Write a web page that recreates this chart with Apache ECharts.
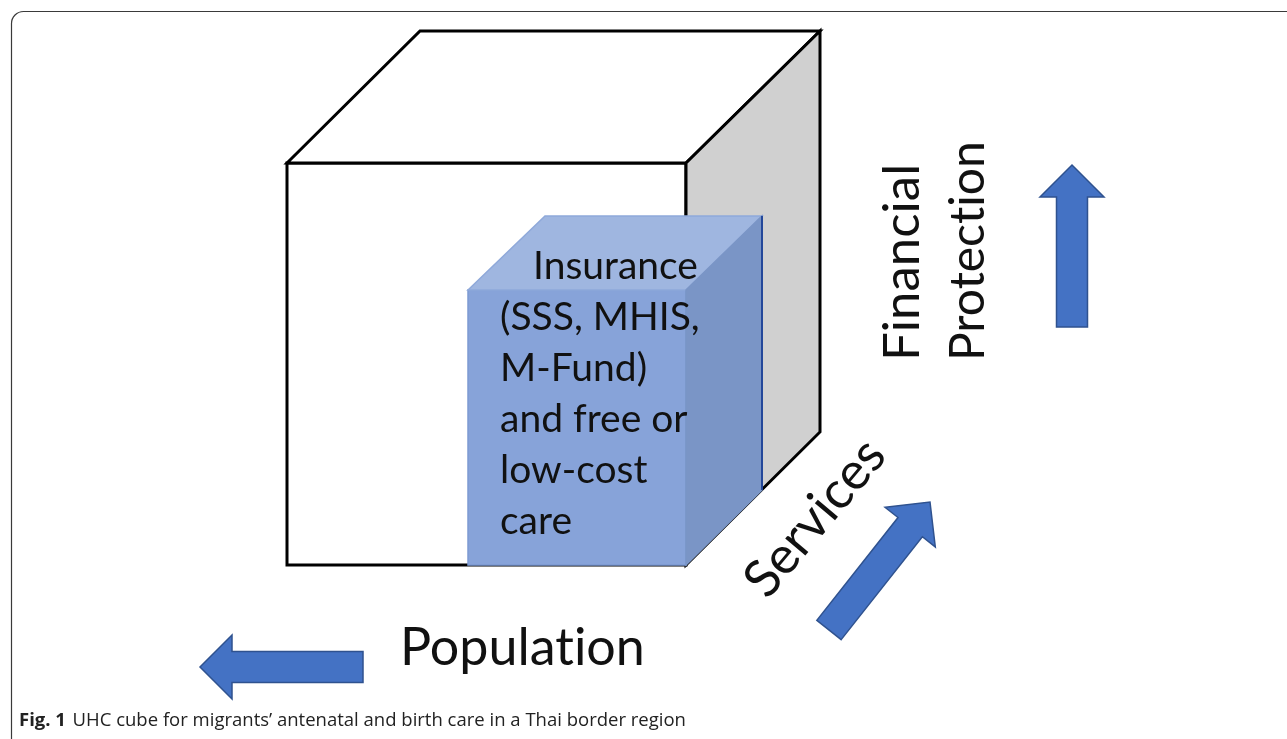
<!DOCTYPE html>
<html>
<head>
<meta charset="utf-8">
<script src="https://cdn.jsdelivr.net/npm/echarts@6/dist/echarts.min.js"></script>
<style>
html,body{margin:0;padding:0;background:#fff;}
#main{width:1287px;height:739px;}
</style>
</head>
<body>
<div id="main"></div>
<script>
// ---- diagram data (in page units of a hidden 0..1287 x 0..739 value grid) ----
const outerCubeFront = [[287,163],[686,163],[686,565],[287,565]];
const outerCubeTop   = [[287,163],[420,31],[820,31],[686,163]];
const outerCubeSide  = [[686,163],[820,31],[820,432],[686,565]];
const innerCubeFront = [[468,290],[686,290],[686,565],[468,565]];
const innerCubeTop   = [[468,290],[545,216],[762,216],[686,290]];
const innerCubeSide  = [[686,290],[762,216],[762,490],[686,565]];
const faceKinds = ['outerFront','outerTop','outerSide','innerFront','innerTop','innerSide'];

const arrowTails = [[363,667],[1072,327],[829,630]];
const arrowTips  = [[200,667],[1072,165],[930,502]];

const dimensionLabels = ['Population','Services','Financial','Protection'];
const dimensionAnchors = [[400,648],[815,518],[903,361],[969,361]];
const dimensionAngles = [0,50,90,90];

const boxLines = ['Insurance','(SSS, MHIS,','M-Fund)','and free or','low-cost','care'];
const boxLineAnchors = [[533,266],[500,317],[500,368],[500,419],[500,470],[500,521]];

const captionLabel = 'Fig. 1';
const captionText = 'UHC cube for migrants\u2019 antenatal and birth care in a Thai border region';
const captionAnchor = [19,721];

// ---- styles ----
const faceStyle = {
  outerFront: {fill:'#ffffff', stroke:'#000000', lineWidth:3},
  outerTop:   {fill:'#ffffff', stroke:'#000000', lineWidth:3},
  outerSide:  {fill:'#d0d0d0', stroke:'#000000', lineWidth:3},
  innerFront: {fill:'#87a3d9', stroke:'#7d9bd2', lineWidth:1.5},
  innerTop:   {fill:'#9fb6e0', stroke:'#8fa9da', lineWidth:1.5},
  innerSide:  {fill:'#7a95c6', stroke:'#7a95c6', lineWidth:1.5}
};
const dimensionFontSizes = [52, 52, 51, 48];
const faces = [outerCubeFront, outerCubeTop, outerCubeSide, innerCubeFront, innerCubeTop, innerCubeSide];
const FONT = 'Lato, "Open Sans", sans-serif';

// break the Lato "ti" ligature so glyphs look like the original (invisible joiner-breaker)
function noLig(s){ return s.replace(/ti/g, 't\u200Ci'); }

const chart = echarts.init(document.getElementById('main'), null, {renderer:'canvas'});

function arrowPoints(tail, tip, api) {
  const a = api.coord(tail), b = api.coord(tip);
  const dx = b[0]-a[0], dy = b[1]-a[1];
  const len = Math.hypot(dx, dy);
  const ux = dx/len, uy = dy/len, nx = -uy, ny = ux;
  const sw = 15.5, hw = 32, hl = 32;
  const bx = b[0]-ux*hl, by = b[1]-uy*hl;
  return [
    [a[0]+nx*sw, a[1]+ny*sw],
    [bx+nx*sw, by+ny*sw],
    [bx+nx*hw, by+ny*hw],
    [b[0], b[1]],
    [bx-nx*hw, by-ny*hw],
    [bx-nx*sw, by-ny*sw],
    [a[0]-nx*sw, a[1]-ny*sw]
  ];
}

const option = {
  backgroundColor: '#ffffff',
  animation: false,
  grid: {left:0, right:0, top:0, bottom:0},
  xAxis: {type:'value', min:0, max:1287, show:false},
  yAxis: {type:'value', min:0, max:739, inverse:true, show:false},
  graphic: [{
    type:'rect', silent:true,
    shape:{x:11.5, y:11.5, width:1400, height:900, r:[12,0,0,0]},
    style:{fill:'none', stroke:'#3a3a3a', lineWidth:1.2}
  }],
  series: [
    {
      type:'custom', name:'faces', coordinateSystem:'cartesian2d',
      data: faces.map((f,i)=>[i]),
      renderItem: function(params, api){
        const i = params.dataIndex;
        const st = faceStyle[faceKinds[i]];
        return {
          type:'polygon',
          shape:{points: faces[i].map(p=>api.coord(p))},
          style:{fill:st.fill, stroke:st.stroke, lineWidth:st.lineWidth, lineJoin:'miter'}
        };
      }
    },
    {
      type:'custom', name:'innerEdge', coordinateSystem:'cartesian2d',
      data:[[0]],
      renderItem: function(params, api){
        const p1 = api.coord(innerCubeSide[1]), p2 = api.coord(innerCubeSide[2]);
        return {type:'line', shape:{x1:p1[0],y1:p1[1],x2:p2[0],y2:p2[1]}, style:{stroke:'#23479a', lineWidth:2}};
      }
    },
    {
      type:'custom', name:'arrows', coordinateSystem:'cartesian2d',
      data: arrowTails.map((t,i)=>[i]),
      renderItem: function(params, api){
        const i = params.dataIndex;
        return {
          type:'polygon',
          shape:{points: arrowPoints(arrowTails[i], arrowTips[i], api)},
          style:{fill:'#4472c4', stroke:'#2f528f', lineWidth:1.5, lineJoin:'miter'}
        };
      }
    },
    {
      type:'custom', name:'dimensions', coordinateSystem:'cartesian2d',
      data: dimensionLabels.map((t,i)=>[i]),
      renderItem: function(params, api){
        const i = params.dataIndex;
        const p = api.coord(dimensionAnchors[i]);
        const ang = dimensionAngles[i];
        return {
          type:'text', x:p[0], y:p[1], rotation: ang*Math.PI/180,
          style:{text: noLig(dimensionLabels[i]), fill:'#111', font: dimensionFontSizes[i] + 'px ' + FONT,
                 align: ang===50 ? 'center' : 'left', verticalAlign:'middle'}
        };
      }
    },
    {
      type:'custom', name:'boxText', coordinateSystem:'cartesian2d',
      data: boxLines.map((t,i)=>[i]),
      renderItem: function(params, api){
        const i = params.dataIndex;
        const p = api.coord(boxLineAnchors[i]);
        return {
          type:'text', x:p[0], y:p[1],
          style:{text: boxLines[i], fill:'#111', font:'39px ' + FONT, align:'left', verticalAlign:'middle'}
        };
      }
    },
    {
      type:'custom', name:'caption', coordinateSystem:'cartesian2d',
      data:[[0]],
      renderItem: function(params, api){
        const p = api.coord(captionAnchor);
        return {
          type:'text', x:p[0], y:p[1],
          style:{
            text:'{b|' + captionLabel + '}  {r|' + captionText + '}',
            verticalAlign:'middle', align:'left',
            rich:{
              b:{font:'bold 18.5px "Open Sans", sans-serif', fill:'#222'},
              r:{font:'18.5px "Open Sans", sans-serif', fill:'#222'}
            }
          }
        };
      }
    }
  ]
};
chart.setOption(option);
</script>
</body>
</html>
